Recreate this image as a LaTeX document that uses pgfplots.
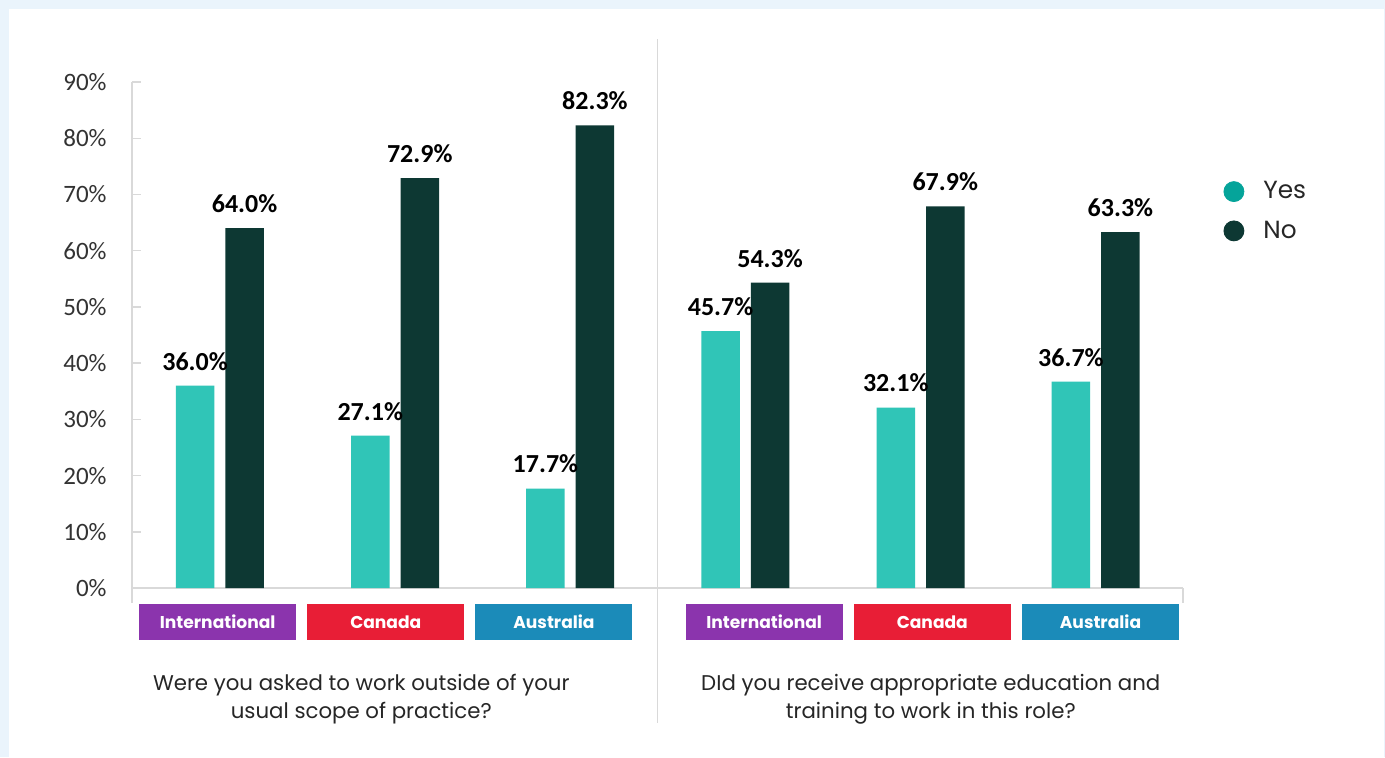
\documentclass[border=0pt]{standalone}
\usepackage{pgfplots}
\pgfplotsset{compat=1.18}
\usepackage{fontspec}
\setmainfont{Carlito}
\newfontfamily\pop{Poppins}
\definecolor{bg}{HTML}{EAF4FC}
\definecolor{yesbar}{HTML}{30C5B7}
\definecolor{nobar}{HTML}{0D3833}
\definecolor{yescirc}{HTML}{05A49A}
\definecolor{purp}{HTML}{8B34AD}
\definecolor{redc}{HTML}{E81E36}
\definecolor{bluec}{HTML}{1B8BB9}
\definecolor{axisgray}{HTML}{D9D9D9}
\definecolor{labgray}{HTML}{333333}
\definecolor{textcol}{HTML}{262626}
\begin{document}
\begin{tikzpicture}
\fill[bg] (0,0) rectangle (692.5pt,-378.5pt);
\fill[white] (4.5pt,-4.5pt) rectangle (692pt,-378.5pt);
\begin{axis}[
  at={(66pt,-294pt)}, anchor=south west,
  scale only axis, width=525.5pt, height=253pt,
  xmin=-0.5, xmax=5.5, ymin=0, ymax=90,
  axis x line*=bottom, axis y line*=left,
  axis line style={draw=axisgray, line width=0.75pt, -},
  ytick={0,10,...,90},
  yticklabel={\pgfmathprintnumber{\tick}\%},
  xtick=\empty,
  tick align=inside, major tick length=4.5pt,
  tick style={axisgray, line width=0.75pt},
  /pgf/number format/assume math mode=true,
  yticklabel style={font=\fontsize{12.5}{15}\selectfont, text=labgray, inner sep=0pt, xshift=-12.5pt},
  clip=false,
  every node near coord/.append style={font=\fontsize{13}{15}\selectfont\bfseries, text=black, inner sep=0pt, yshift=7.5pt},
  legend style={draw=none, fill=none, at={(axis cs:5.729,73.1)}, anchor=north west,
    font=\pop\fontsize{12.4}{14}\selectfont, text=textcol, row sep=5.5pt, inner sep=0pt},
  legend cell align=left,
]
\addplot[ybar, bar width=19.25pt, bar shift=-12.25pt, fill=yesbar, draw=none, forget plot,
  point meta=y,
  every node near coord/.append style={xshift=-12.25pt},
  nodes near coords={\pgfmathprintnumber[fixed,fixed zerofill,precision=1]{\pgfplotspointmeta}\%}]
  coordinates {(0,36.0) (1,27.1) (2,17.7) (3,45.7) (4,32.1) (5,36.7)};
\addplot[ybar, bar width=19.25pt, bar shift=12.5pt, fill=nobar, draw=none, forget plot,
  point meta=y,
  every node near coord/.append style={xshift=12.5pt},
  nodes near coords={\pgfmathprintnumber[fixed,fixed zerofill,precision=1]{\pgfplotspointmeta}\%}]
  coordinates {(0,64.0) (1,72.9) (2,82.3) (3,54.3) (4,67.9) (5,63.3)};
\addlegendimage{legend image code/.code={\fill[yescirc] (5pt,0) circle (5pt); \path (17.5pt,0);}}
\addlegendentry{Yes}
\addlegendimage{legend image code/.code={\fill[nobar] (5pt,0) circle (5pt); \path (17.5pt,0);}}
\addlegendentry{No}
\draw[axisgray, line width=0.75pt] (axis cs:2.5,97.65) -- (axis cs:2.5,-24);
\draw[axisgray, line width=0.75pt] (axis cs:-0.5,0) -- (axis cs:-0.5,-2.67);
\draw[axisgray, line width=0.75pt] (axis cs:5.5,0) -- (axis cs:5.5,-2.67);
\tikzset{cat/.style={minimum width=78.5pt, minimum height=18pt, inner sep=0pt, text=white, font=\pop\bfseries\fontsize{8.55}{10}\selectfont}}
\node[cat, fill=purp] at (axis cs:-0.011,-6.05) {International};
\node[cat, fill=redc] at (axis cs:0.949,-6.05) {Canada};
\node[cat, fill=bluec] at (axis cs:1.909,-6.05) {Australia};
\node[cat, fill=purp] at (axis cs:3.109,-6.05) {International};
\node[cat, fill=redc] at (axis cs:4.069,-6.05) {Canada};
\node[cat, fill=bluec] at (axis cs:5.029,-6.05) {Australia};
\node[align=center, text=textcol, font=\pop\fontsize{10.65}{14}\selectfont] at (axis cs:0.809,-19.8) {Were you asked to work outside of your\\usual scope of practice?};
\node[align=center, text=textcol, font=\pop\fontsize{10.65}{14}\selectfont] at (axis cs:4.06,-19.8) {DId you receive appropriate education and\\training to work in this role?};
\end{axis}
\pgfresetboundingbox
\useasboundingbox (0,0) rectangle (692.5pt,-378.5pt);
\end{tikzpicture}
\end{document}
